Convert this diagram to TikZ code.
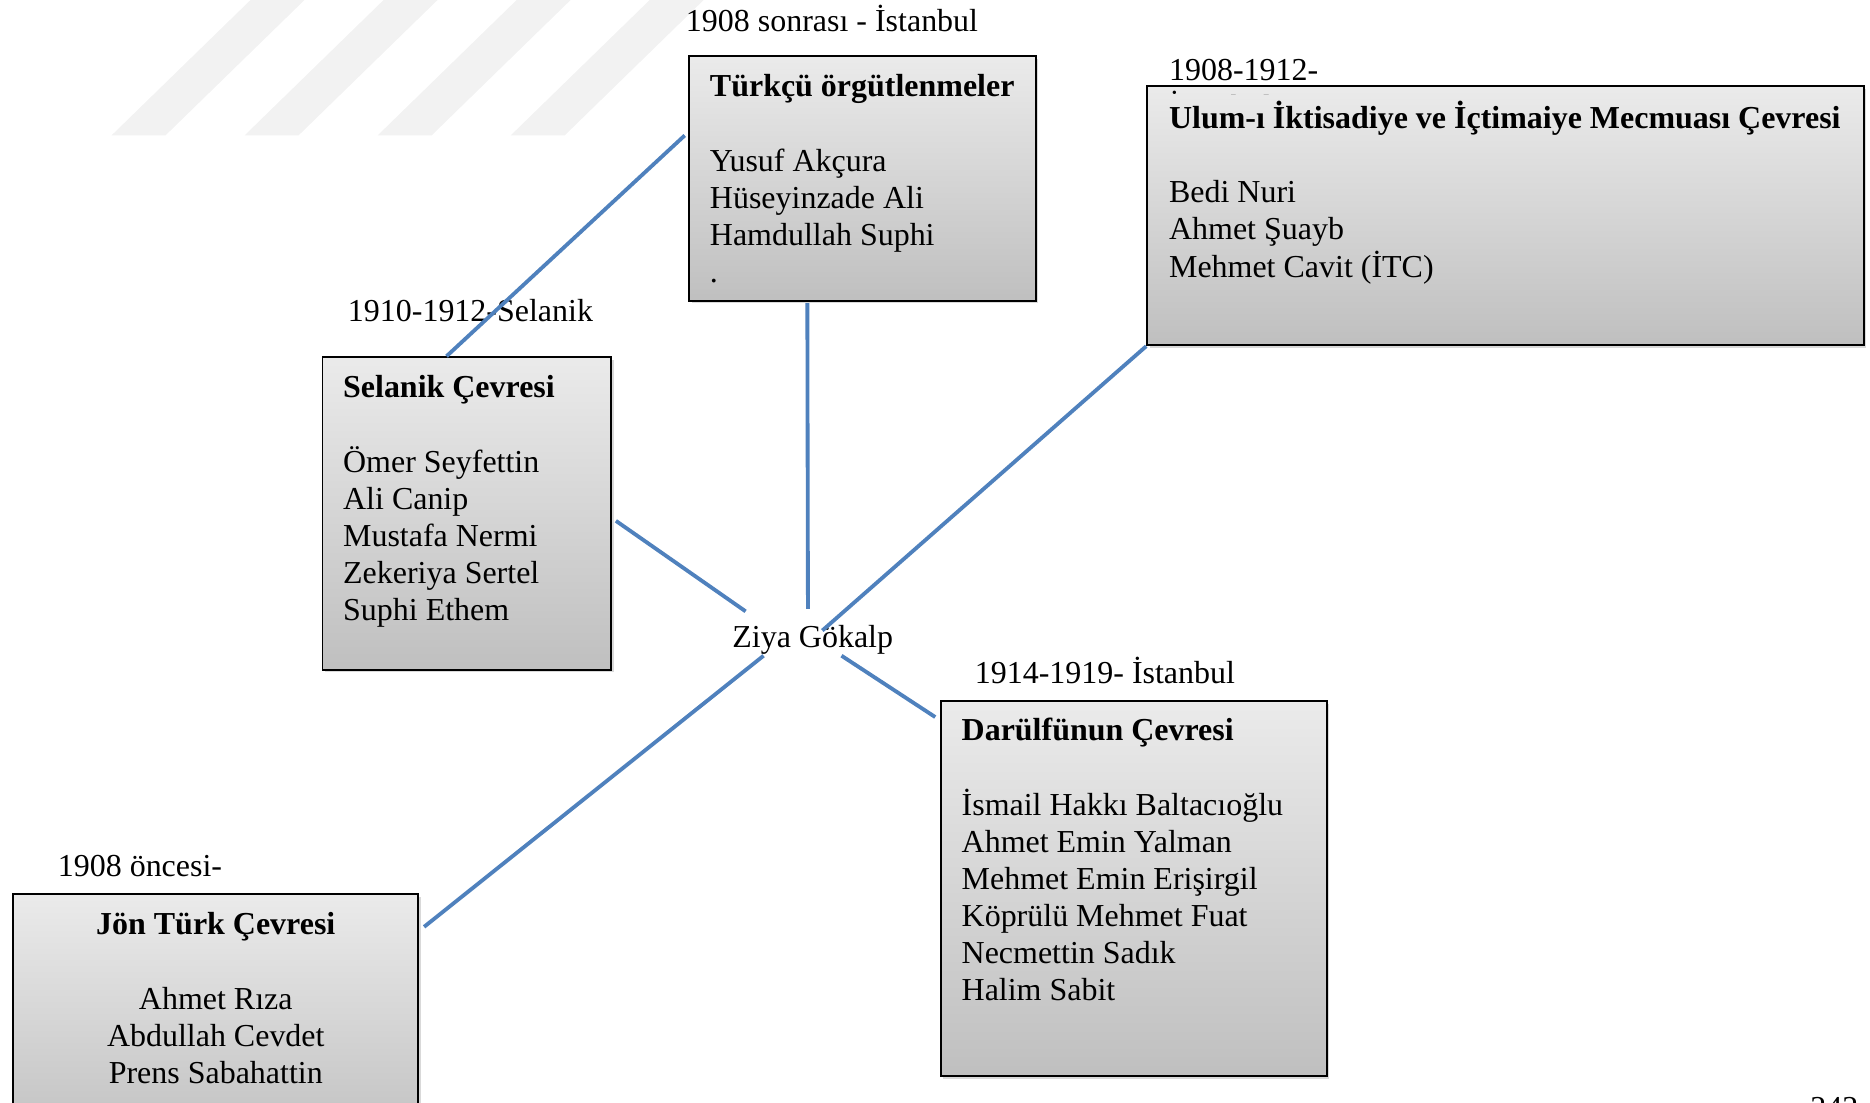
\documentclass[tikz,border=0pt]{standalone}
\usepackage{fontspec}
\setmainfont{Liberation Serif}
\usetikzlibrary{positioning,fit,shadows}

\definecolor{linkblue}{RGB}{79,129,189}
\tikzset{
  wmark/.style={fill=black!5},
  box/.style={draw=black, line width=1.2pt, top color=black!8, bottom color=black!25, inner sep=0pt,
    drop shadow={shadow xshift=1.5pt, shadow yshift=-1.5pt, opacity=0.3}},
  names/.style={anchor=north west, inner sep=0pt, align=left},
  lbl/.style={anchor=base west, inner sep=0pt},
  link/.style={draw=linkblue, line width=2.4pt},
}

\begin{document}
\begin{tikzpicture}[x=0.75pt,y=0.75pt,yscale=-1,xscale=1,font=\fontsize{20}{23.25}\selectfont]
    \useasboundingbox (0,0) rectangle (1560,920);
    \clip (0,0) rectangle (1560,920);

    %Watermark stripes
    \foreach \i in {0,...,3}
      \fill [wmark] ({93+111*\i},113) -- ({138+111*\i},113) -- ({254+111*\i},0) -- ({209+111*\i},0) -- cycle;

    % Text Node
    \draw (572,26) node [lbl] (tarih1) {1908 sonrası - İstanbul};
    % Text Node
    \draw (975,67) node [lbl] (tarih2) {1908-1912-};
    % Text Node
    \draw (290,268) node [lbl] (tarih3) {1910-1912-Selanik};
    % Text Node
    \draw (48,731) node [lbl] (tarih4) {1908 öncesi-};
    % Text Node
    \draw (813,570) node [lbl] (tarih5) {1914-1919- İstanbul};
    % Text Node
    \draw (678,540) node [anchor=base, inner sep=0pt] (ziya) {Ziya Gökalp};
    % Text Node
    \draw (1510,933) node [lbl] (sayfa) {242};

    %Shape: Rectangle
    \node [box, fit={(575,47) (864,251)}] (turk) {};
    %Shape: Rectangle
    \node [box, fit={(957,72) (1555,288)}] (ulum) {};
    %Shape: Rectangle
    \node [box, fit={(269,298) (510,559)}] (sel) {};
    %Shape: Rectangle
    \node [box, fit={(11,746) (349,960)}] (jon) {};
    %Shape: Rectangle
    \node [box, fit={(785,585) (1107,898)}] (daru) {};

    % second line of the date, cut by the box
    \begin{scope}
      \clip (960,73) rectangle (1200,79);
      \draw (975,98) node [lbl] (tarih2b) {İstanbul};
    \end{scope}

    % Text Node
    \draw (592,62) node [names] (turkt) {\textbf{Türkçü örgütlenmeler}\\[23.25pt]Yusuf Akçura\\Hüseyinzade Ali\\Hamdullah Suphi\\.};
    % Text Node
    \draw (975,84) node [names] (ulumt) {\textbf{Ulum-ı İktisadiye ve İçtimaiye Mecmuası Çevresi}\\[23.25pt]Bedi Nuri\\Ahmet Şuayb\\Mehmet Cavit (İTC)};
    % Text Node
    \draw (286,313) node [names] (selt) {\textbf{Selanik Çevresi}\\[23.25pt]Ömer Seyfettin\\Ali Canip\\Mustafa Nermi\\Zekeriya Sertel\\Suphi Ethem};
    % Text Node
    \draw (180,761) node [names, anchor=north, align=center] (jont) {\textbf{Jön Türk Çevresi}\\[23.25pt]Ahmet Rıza\\Abdullah Cevdet\\Prens Sabahattin};
    % Text Node
    \draw (802,599) node [names] (darut) {\textbf{Darülfünun Çevresi}\\[23.25pt]İsmail Hakkı Baltacıoğlu\\Ahmet Emin Yalman\\Mehmet Emin Erişirgil\\Köprülü Mehmet Fuat\\Necmettin Sadık\\Halim Sabit};

    %Straight Lines
    \draw [link] ([shift={(-17,0)}]sel.north) -- ([shift={(-3,-36)}]turk.west);
    %Straight Lines
    \draw [link] ([shift={(-46,1)}]turk.south) -- ([shift={(-4,-32)}]ziya.base);
    %Straight Lines
    \draw [link] (ulum.south west) -- ([shift={(8,-14)}]ziya.base);
    %Straight Lines
    \draw [link] ([shift={(3,6)}]sel.east) -- ([shift={(-56,-30)}]ziya.base);
    %Straight Lines
    \draw [link] ([shift={(-41,7)}]ziya.base) -- ([shift={(4,28)}]jon.north east);
    %Straight Lines
    \draw [link] ([shift={(24,7)}]ziya.base) -- ([shift={(-4,14)}]daru.north west);
\end{tikzpicture}
\end{document}
